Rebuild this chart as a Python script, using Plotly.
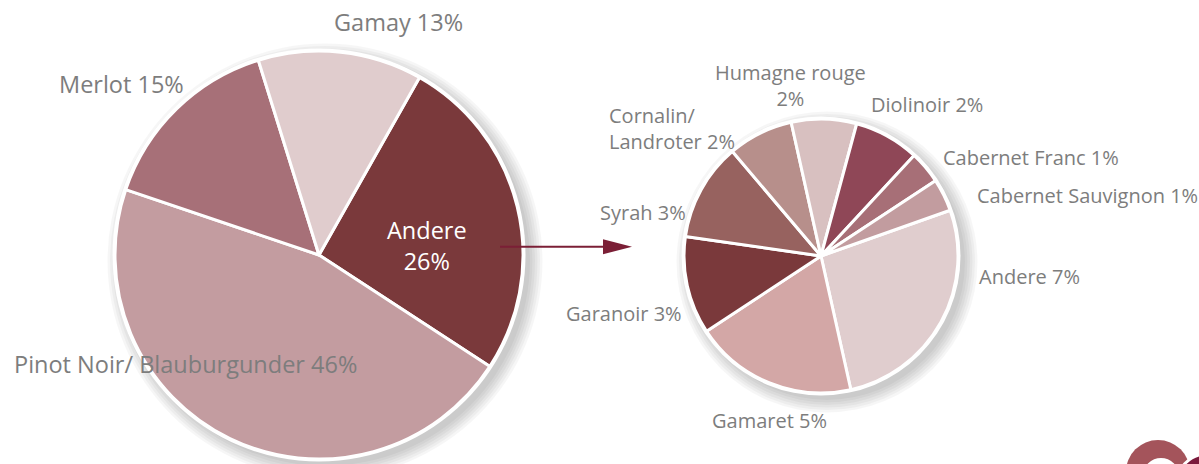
import plotly.graph_objects as go

W, H = 1199, 464

# ---- data ----
main_names = ["Andere", "Pinot Noir/ Blauburgunder", "Merlot", "Gamay"]
main_values = [26, 46, 15, 13]
main_colors = ["#7a393b", "#c39ca0", "#a77078", "#e0cccd"]

sub_names = ["Andere", "Gamaret", "Garanoir", "Syrah", "Cornalin/ Landroter",
             "Humagne rouge", "Diolinoir", "Cabernet Franc", "Cabernet Sauvignon"]
sub_values = [7, 5, 3, 3, 2, 2, 2, 1, 1]
sub_colors = ["#e0cdce", "#d3a7a6", "#7a393b", "#97625f", "#b78f8b",
              "#d8c0c0", "#8f4757", "#a76f77", "#c29c9f"]

# ---- layout helpers (pixel -> paper) ----
def px(x):
    return x / W

def py(y):
    return 1 - y / H

BIG_C, BIG_R = (319, 255), 204
SMALL_C, SMALL_R = (821, 256), 137
FONT = "Open Sans, Lato, sans-serif"
GRAY = "#7d7d7d"

def domain(c, r):
    return dict(x=[px(c[0] - r), px(c[0] + r)], y=[py(c[1] + r), py(c[1] - r)])

fig = go.Figure()
fig.add_trace(go.Pie(
    labels=main_names, values=main_values, sort=False, direction="clockwise",
    rotation=29.5, marker=dict(colors=main_colors, line=dict(color="white", width=3)),
    textinfo="none", hoverinfo="label+percent", domain=domain(BIG_C, BIG_R),
    showlegend=False,
))
fig.add_trace(go.Pie(
    labels=sub_names, values=sub_values, sort=False, direction="clockwise",
    rotation=70.5, marker=dict(colors=sub_colors, line=dict(color="white", width=3)),
    textinfo="none", hoverinfo="label+value", domain=domain(SMALL_C, SMALL_R),
    showlegend=False,
))

shapes = []
def circle(cx, cy, r, color, layer="below", line=None):
    return dict(type="circle", xref="paper", yref="paper",
                x0=px(cx - r), x1=px(cx + r), y0=py(cy + r), y1=py(cy - r),
                fillcolor=color, line=line or dict(width=0), layer=layer)

# soft drop shadows + white rims
for (c, r) in [(BIG_C, BIG_R), (SMALL_C, SMALL_R)]:
    for k in range(6):
        shapes.append(circle(c[0] + 6, c[1] + 6, r + 1 + 2.5 * k, "rgba(0,0,0,0.035)"))
    shapes.append(circle(c[0], c[1], r + 2.5, "white"))

# arrow
ay = 246.7
shapes.append(dict(type="line", xref="paper", yref="paper",
                   x0=px(500), x1=px(608), y0=py(ay), y1=py(ay),
                   line=dict(color="#7b1f36", width=2), layer="above"))
shapes.append(dict(type="path", xref="paper", yref="paper",
                   path=f"M {px(603)},{py(ay-7.5)} L {px(632)},{py(ay)} L {px(603)},{py(ay+7.5)} Z",
                   fillcolor="#7b1f36", line=dict(width=0), layer="above"))

# logo fragment bottom-right
shapes.append(circle(1158, 472, 32, "#a4545b", layer="above"))
shapes.append(circle(1161, 476, 18, "white", layer="above"))
shapes.append(circle(1207, 484, 30, "#7a1a3c", layer="above", line=dict(color="white", width=3)))

# ---- labels ----
main_label_text = ["Andere<br>26%", "Pinot Noir/ Blauburgunder 46%", "Merlot 15%", "Gamay 13%"]
sub_label_text = ["Andere 7%", "Gamaret 5%", "Garanoir 3%", "Syrah 3%", "Cornalin/<br>Landroter 2%",
                  "Humagne rouge<br>2%", "Diolinoir 2%", "Cabernet Franc 1%", "Cabernet Sauvignon 1%"]

# (x, y, xanchor, align)
main_pos = [(427, 245, "center", "center"), (12, 364, "left", "left"),
            (57, 84, "left", "left"), (332, 22, "left", "left")]
sub_pos = [(977, 276, "left", "left"), (710, 420, "left", "left"), (684, 313, "right", "right"),
           (598, 212, "left", "left"), (607, 129, "left", "left"), (791, 86, "center", "center"),
           (869, 105, "left", "left"), (941, 157, "left", "left"), (975, 195, "left", "left")]

annotations = []
for i, (t, (x, y, xa, al)) in enumerate(zip(main_label_text, main_pos)):
    annotations.append(dict(text=t, x=px(x), y=py(y), xref="paper", yref="paper",
                            xanchor=xa, yanchor="middle", align=al, showarrow=False,
                            font=dict(family=FONT, size=23.5, color="white" if i == 0 else GRAY)))
for t, (x, y, xa, al) in zip(sub_label_text, sub_pos):
    annotations.append(dict(text=t, x=px(x), y=py(y), xref="paper", yref="paper",
                            xanchor=xa, yanchor="middle", align=al, showarrow=False,
                            font=dict(family=FONT, size=20, color=GRAY)))

fig.update_layout(width=W, height=H, margin=dict(l=0, r=0, t=0, b=0),
                  paper_bgcolor="white", plot_bgcolor="white",
                  shapes=shapes, annotations=annotations, showlegend=False)

fig.write_html("out.html", config={"displayModeBar": False},
               post_script="document.body.style.margin='0';document.body.style.padding='0';document.body.style.overflow='hidden';")
